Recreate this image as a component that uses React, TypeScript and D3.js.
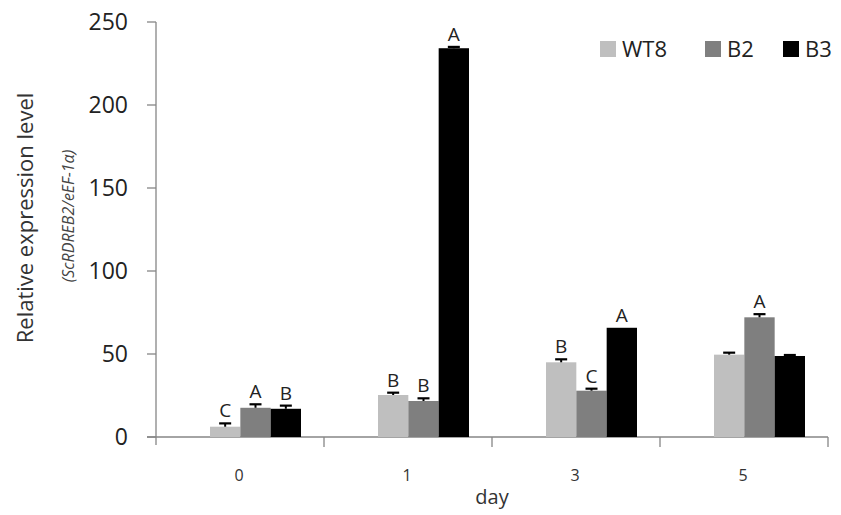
import React, { useEffect, useRef } from 'react';
import * as d3 from 'd3';

const days = ['0', '1', '3', '5'];
const series = ['WT8', 'B2', 'B3'];
const colors = ['#bfbfbf', '#7f7f7f', '#000000'];
const means = [
  [6.2, 17.6, 17.0],
  [25.3, 21.7, 234.2],
  [45.0, 27.9, 65.8],
  [49.6, 72.1, 48.8],
];
const errors = [
  [2.0, 2.1, 1.9],
  [1.4, 1.6, 0.8],
  [1.8, 1.2, 0],
  [1.2, 1.9, 0.6],
];
const letters = [
  ['C', 'A', 'B'],
  ['B', 'B', 'A'],
  ['B', 'C', 'A'],
  ['', 'A', ''],
];
const yTicks = [0, 50, 100, 150, 200, 250];

const W = 841, H = 515;
const margin = { left: 156, right: 13, top: 22, bottom: 78 };
const font = "'Open Sans', 'Noto Sans', sans-serif";

export default function App() {
  const ref = useRef<SVGSVGElement>(null);

  useEffect(() => {
    const svg = d3.select(ref.current);
    svg.selectAll('*').remove();

    const x = d3.scaleBand().domain(days).range([margin.left, W - margin.right]);
    const y = d3.scaleLinear().domain([0, 250]).range([H - margin.bottom, margin.top]);
    // bars sit to the right of the band centre, as in the original
    const inner = d3.scaleBand().domain(series).range([54, 145]);

    const axisColor = '#868686';

    // y axis
    svg.append('line')
      .attr('x1', margin.left).attr('x2', margin.left)
      .attr('y1', y(250)).attr('y2', y(0) + 8)
      .attr('stroke', axisColor).attr('stroke-width', 1.3);
    yTicks.forEach(t => {
      svg.append('line')
        .attr('x1', margin.left - 9).attr('x2', margin.left)
        .attr('y1', y(t)).attr('y2', y(t))
        .attr('stroke', axisColor).attr('stroke-width', 1.3);
      svg.append('text')
        .attr('x', 128).attr('y', y(t))
        .attr('dy', '0.36em')
        .attr('text-anchor', 'end')
        .attr('font-family', font).attr('font-size', 23)
        .attr('fill', '#222')
        .text(t);
    });

    // x axis
    svg.append('line')
      .attr('x1', margin.left - 9).attr('x2', W - margin.right)
      .attr('y1', y(0)).attr('y2', y(0))
      .attr('stroke', axisColor).attr('stroke-width', 1.3);
    days.forEach((d) => {
      svg.append('line')
        .attr('x1', x(d)! + x.bandwidth()).attr('x2', x(d)! + x.bandwidth())
        .attr('y1', y(0)).attr('y2', y(0) + 10)
        .attr('stroke', axisColor).attr('stroke-width', 1.3);
      svg.append('text')
        .attr('x', x(d)! + x.bandwidth() / 2 - 1).attr('y', 481)
        .attr('text-anchor', 'middle')
        .attr('font-family', font).attr('font-size', 16)
        .attr('fill', '#333')
        .text(d);
    });

    svg.append('text')
      .attr('x', 492).attr('y', 504)
      .attr('text-anchor', 'middle')
      .attr('font-family', font).attr('font-size', 20)
      .attr('fill', '#333')
      .text('day');

    // y title
    svg.append('text')
      .attr('transform', 'translate(33,218) rotate(-90)')
      .attr('text-anchor', 'middle')
      .attr('font-family', font).attr('font-size', 22)
      .attr('fill', '#333')
      .text('Relative expression level');
    svg.append('text')
      .attr('transform', 'translate(74,216) rotate(-90)')
      .attr('text-anchor', 'middle')
      .attr('font-family', font).attr('font-size', 16)
      .attr('font-style', 'italic')
      .attr('fill', '#444')
      .text('(ScRDREB2/eEF-1α)');

    // bars
    days.forEach((d, i) => {
      series.forEach((s, j) => {
        const bx = x(d)! + inner(s)!;
        const bw = inner.bandwidth();
        const v = means[i][j];
        svg.append('rect')
          .attr('x', bx).attr('y', y(v))
          .attr('width', bw).attr('height', y(0) - y(v))
          .attr('fill', colors[j]);
        const e = errors[i][j];
        const cx = bx + bw / 2;
        if (e > 0) {
          svg.append('line')
            .attr('x1', cx).attr('x2', cx)
            .attr('y1', y(v)).attr('y2', y(v + e))
            .attr('stroke', '#000').attr('stroke-width', 2);
          svg.append('line')
            .attr('x1', cx - 6).attr('x2', cx + 6)
            .attr('y1', y(v + e)).attr('y2', y(v + e))
            .attr('stroke', '#000').attr('stroke-width', 2.2);
        }
        if (letters[i][j]) {
          svg.append('text')
            .attr('x', cx).attr('y', y(v + e) - 6)
            .attr('text-anchor', 'middle')
            .attr('font-family', font).attr('font-size', 19)
            .attr('fill', '#222')
            .text(letters[i][j]);
        }
      });
    });

    // legend
    const legendX = [600, 705, 783];
    series.forEach((s, j) => {
      svg.append('rect')
        .attr('x', legendX[j]).attr('y', 41)
        .attr('width', 16).attr('height', 16)
        .attr('fill', colors[j]);
      svg.append('text')
        .attr('x', legendX[j] + 22).attr('y', 57)
        .attr('font-family', font).attr('font-size', 22)
        .attr('fill', '#222')
        .text(s);
    });
  }, []);

  return (
    <svg ref={ref} width={W} height={H}
      style={{ position: 'absolute', left: 0, top: 0, background: '#fff' }} />
  );
}
